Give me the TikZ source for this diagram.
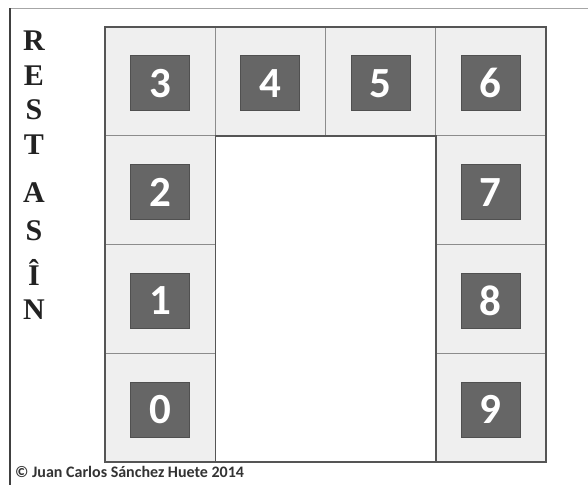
\documentclass[tikz,border=0pt]{standalone}
\usepackage{fontspec}
\setmainfont{Liberation Serif}
\newfontfamily\numfont{Carlito}
\definecolor{cellgray}{HTML}{EFEFEF}
\definecolor{sqgray}{HTML}{666666}
\definecolor{sqedge}{HTML}{505050}
\definecolor{gridline}{HTML}{8C8C8C}
\definecolor{frameline}{HTML}{555555}
\definecolor{txtdark}{HTML}{222222}
\begin{document}
\begin{tikzpicture}[x=1pt,y=-1pt,
  cell/.style={draw=gridline, line width=0.8pt, fill=cellgray, minimum width=110.25pt, minimum height=108.75pt, inner sep=0pt, anchor=center},
  numsq/.style={draw=sqedge, line width=0.8pt, fill=sqgray, minimum width=59pt, minimum height=55pt, inner sep=0pt, text=white, font=\numfont\bfseries\fontsize{43}{43}\selectfont},
  vletter/.style={text=txtdark, font=\bfseries\fontsize{30}{30}\selectfont, inner sep=0pt},
  foot/.style={text=black!80, font=\numfont\bfseries\fontsize{16}{16}\selectfont, anchor=west, inner sep=0pt}]
\useasboundingbox (0,0) rectangle (588,485);
\fill[white] (0,0) rectangle (588,485);
% outer page frame
\draw[gray!70, line width=1pt] (10,8) -- (588,8);
\draw[black!75, line width=1.3pt] (10,8) -- (10,485);
% cells
\node[cell] (c3) at (160.125,81.375) {};
\node[cell] (c4) at (270.375,81.375) {};
\node[cell] (c5) at (380.625,81.375) {};
\node[cell] (c6) at (490.875,81.375) {};
\node[cell] (c2) at (160.125,190.125) {};
\node[cell] (c1) at (160.125,298.875) {};
\node[cell] (c0) at (160.125,407.625) {};
\node[cell] (c7) at (490.875,190.125) {};
\node[cell] (c8) at (490.875,298.875) {};
\node[cell] (c9) at (490.875,407.625) {};
% centre opening and outer boundary
\draw[frameline, line width=1.5pt, fill=white] (215.25,135.75) rectangle (435.75,462);
\draw[frameline, line width=1.6pt] (105,27) rectangle (546,462);
% numbered squares
\foreach \c in {0,...,9} {
  \node[numsq] (s\c) at ([yshift=-2pt]c\c.center) {\c};
}
% vertical word
\node[vletter] (l1) at (34,41) {R};
\node[vletter] (l2) at (34,76) {E};
\node[vletter] (l3) at (34,110) {S};
\node[vletter] (l4) at (34,145) {T};
\node[vletter] (l5) at (34,193) {A};
\node[vletter] (l6) at (34,231) {S};
\node[vletter] (l7) at (34,272) {Î};
\node[vletter] (l8) at (34,310) {N};
% footer
\node[foot] (credit) at (15,472) {© Juan Carlos Sánchez Huete 2014};
\end{tikzpicture}
\end{document}
